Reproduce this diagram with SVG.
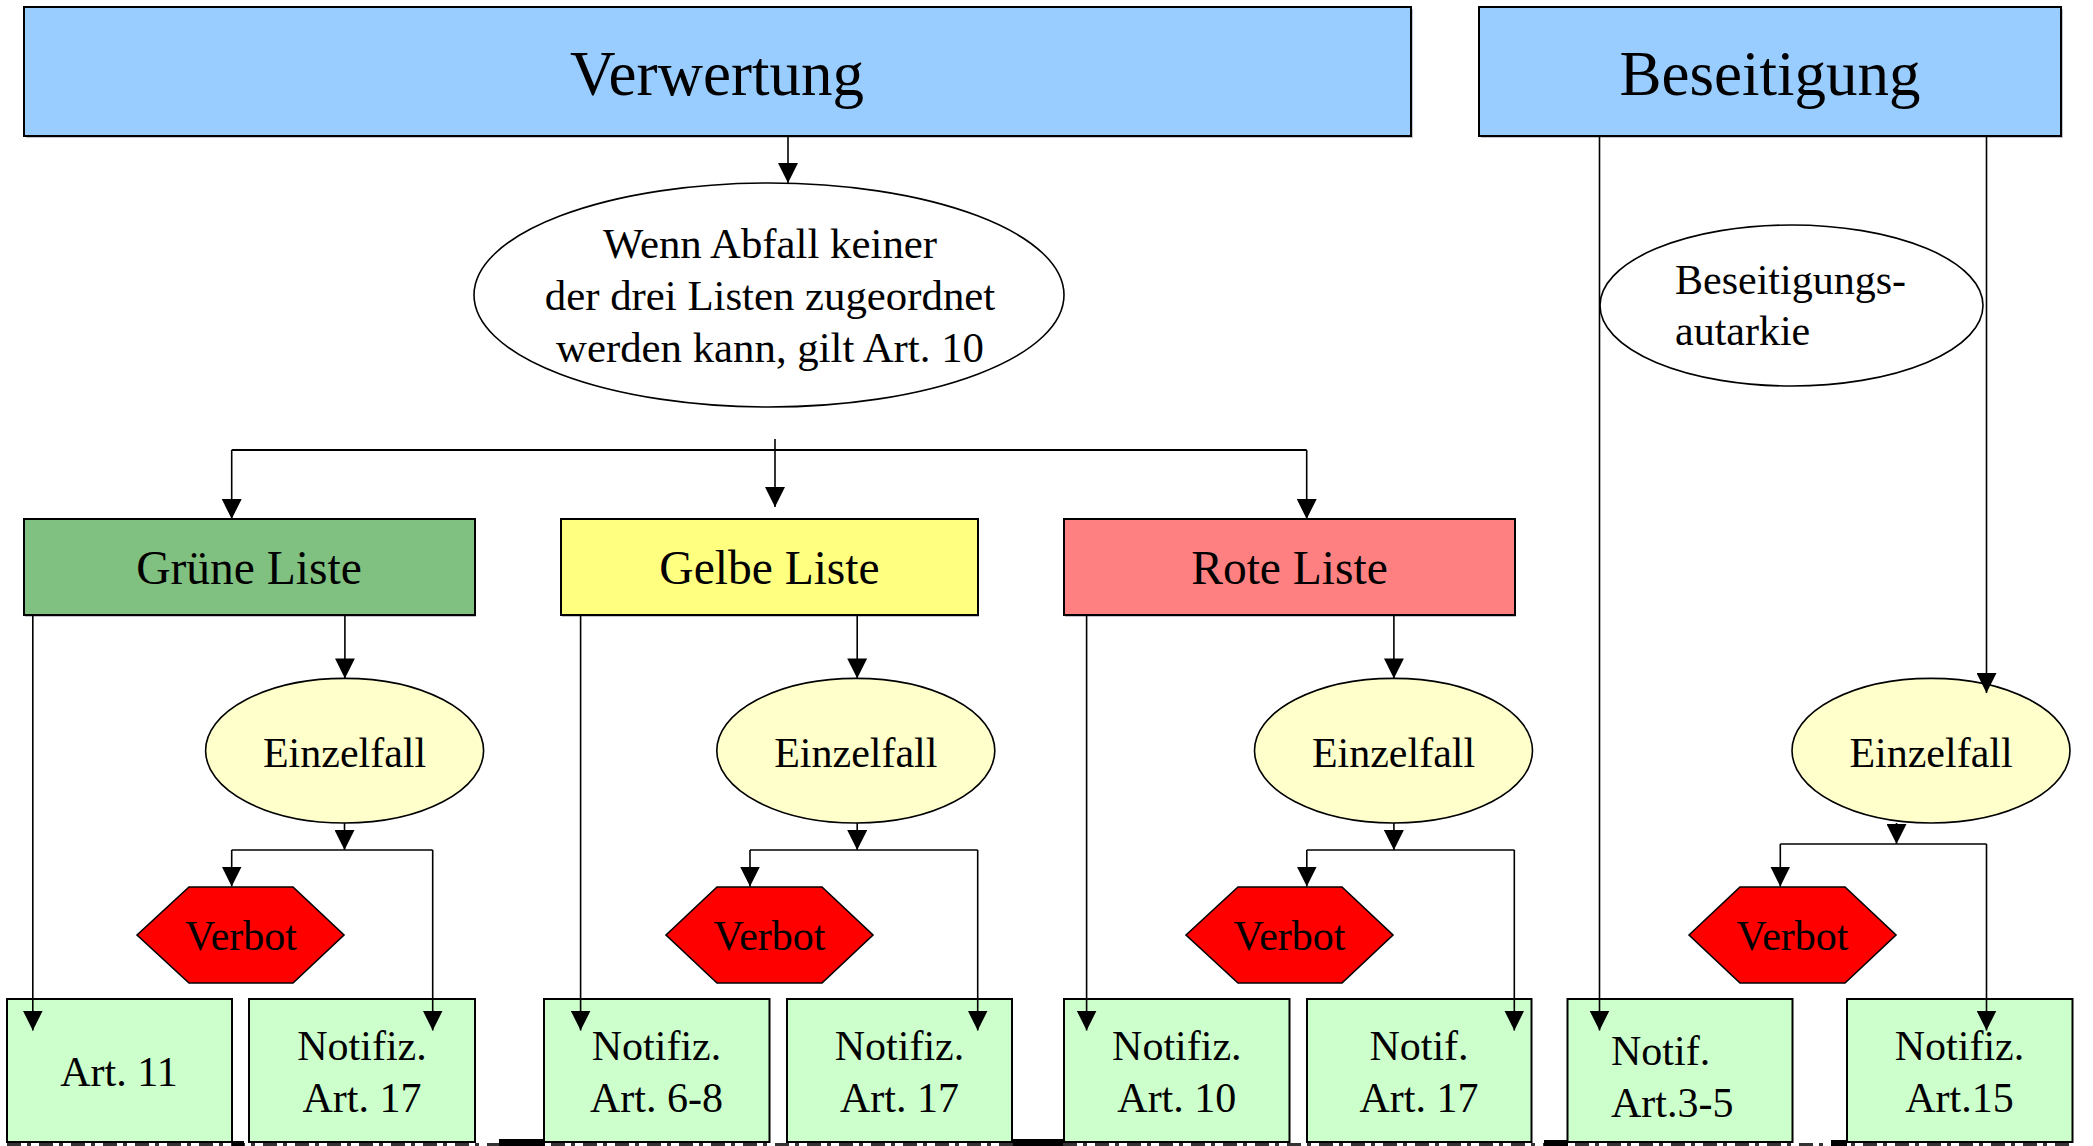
<svg xmlns="http://www.w3.org/2000/svg" width="2093" height="1146" viewBox="0 0 2093 1146">
<style>
text{font-family:"Liberation Serif","Times New Roman",serif;fill:#000;text-anchor:middle}
.box{stroke:#000;stroke-width:2}
.shadow{fill:#c4c4cc}
.ell{stroke:#000;stroke-width:1.6}
.t63{font-size:63px}
.t47{font-size:47.5px}
.t42{font-size:42px}
.t43{font-size:42.8px}
.c{fill:none;stroke:#000;stroke-width:1.6}
.ca{fill:none;stroke:#000;stroke-width:1.6;marker-end:url(#ah)}
.art{fill:#ccffcc}
.hex{fill:#ff0000;stroke:#000;stroke-width:1.6}
.ein{fill:#ffffcc}
</style>
<defs>
<marker id="ah" markerUnits="userSpaceOnUse" markerWidth="20" markerHeight="20" refX="20" refY="10" orient="auto" viewBox="0 0 20 20">
<path d="M0,0 L20,10 L0,20 z" fill="#000"/>
</marker>
</defs>
<rect width="2093" height="1146" fill="#fff"/>

<g id="verwertung">
<rect class="shadow" x="26" y="9" width="1387" height="129"/>
<rect class="box" x="24" y="7" width="1387" height="129" fill="#99ccff"/>
<text class="t63" x="717" y="95">Verwertung</text>
</g>
<g id="beseitigung">
<rect class="shadow" x="1481" y="9" width="582" height="129"/>
<rect class="box" x="1479" y="7" width="582" height="129" fill="#99ccff"/>
<text class="t63" x="1770" y="95">Beseitigung</text>
</g>

<g id="wenn">
<ellipse class="ell" cx="769" cy="295" rx="295" ry="112" fill="#fff"/>
<text class="t43" x="770" y="258">Wenn Abfall keiner</text>
<text class="t43" x="770" y="310">der drei Listen zugeordnet</text>
<text class="t43" x="770" y="362">werden kann, gilt Art. 10</text>
</g>
<g id="autarkie">
<ellipse class="ell" cx="1791.5" cy="305.5" rx="191.5" ry="80.5" fill="#fff"/>
<text class="t42" x="1675" y="294" style="text-anchor:start">Beseitigungs-</text>
<text class="t42" x="1675" y="345" style="text-anchor:start">autarkie</text>
</g>

<g id="gruen">
<rect class="shadow" x="25" y="521" width="451" height="96"/>
<rect class="box" x="24" y="519" width="451" height="96" fill="#80c080"/>
<text class="t47" x="249" y="584">Grüne Liste</text>
</g>
<g id="gelb">
<rect class="shadow" x="562" y="521" width="417" height="96"/>
<rect class="box" x="561" y="519" width="417" height="96" fill="#ffff80"/>
<text class="t47" x="769.5" y="584">Gelbe Liste</text>
</g>
<g id="rot">
<rect class="shadow" x="1065" y="521" width="451" height="96"/>
<rect class="box" x="1064" y="519" width="451" height="96" fill="#ff8080"/>
<text class="t47" x="1289.5" y="584">Rote Liste</text>
</g>

<g id="einzelfall1">
<ellipse class="ell ein" cx="344.6" cy="750.7" rx="139" ry="72.3"/>
<text class="t42" x="344.6" y="767">Einzelfall</text>
</g>
<g id="einzelfall2">
<ellipse class="ell ein" cx="855.8" cy="750.7" rx="139" ry="72.3"/>
<text class="t42" x="855.8" y="767">Einzelfall</text>
</g>
<g id="einzelfall3">
<ellipse class="ell ein" cx="1393.5" cy="750.7" rx="139" ry="72.3"/>
<text class="t42" x="1393.5" y="767">Einzelfall</text>
</g>
<g id="einzelfall4">
<ellipse class="ell ein" cx="1931" cy="750.7" rx="139" ry="72.3"/>
<text class="t42" x="1931" y="767">Einzelfall</text>
</g>

<g id="verbot1">
<polygon class="hex" points="137,935 189,887 293,887 344,935 293,983 189,983"/>
<text class="t42" x="241" y="950">Verbot</text>
</g>
<g id="verbot2">
<polygon class="hex" points="666,935 717,887 822,887 873,935 822,983 717,983"/>
<text class="t42" x="769.5" y="950">Verbot</text>
</g>
<g id="verbot3">
<polygon class="hex" points="1186,935 1238,887 1342,887 1393,935 1342,983 1238,983"/>
<text class="t42" x="1289.5" y="950">Verbot</text>
</g>
<g id="verbot4">
<polygon class="hex" points="1689,935 1740,887 1845,887 1896,935 1845,983 1740,983"/>
<text class="t42" x="1792.5" y="950">Verbot</text>
</g>

<g id="art11">
<rect class="box art" x="7" y="999" width="225" height="143"/>
<text class="t42" x="119" y="1086">Art. 11</text>
</g>
<g id="notifiz17a">
<rect class="box art" x="249" y="999" width="226" height="143"/>
<text class="t42" x="362" y="1060">Notifiz.</text>
<text class="t42" x="362" y="1112">Art. 17</text>
</g>
<g id="notifiz68">
<rect class="box art" x="544" y="999" width="225.5" height="143"/>
<text class="t42" x="656.5" y="1060">Notifiz.</text>
<text class="t42" x="656.5" y="1112">Art. 6-8</text>
</g>
<g id="notifiz17b">
<rect class="box art" x="787" y="999" width="225" height="143"/>
<text class="t42" x="899.5" y="1060">Notifiz.</text>
<text class="t42" x="899.5" y="1112">Art. 17</text>
</g>
<g id="notifiz10">
<rect class="box art" x="1064" y="999" width="225.5" height="143"/>
<text class="t42" x="1176.8" y="1060">Notifiz.</text>
<text class="t42" x="1176.8" y="1112">Art. 10</text>
</g>
<g id="notif17">
<rect class="box art" x="1307" y="999" width="224.5" height="143"/>
<text class="t42" x="1419" y="1060">Notif.</text>
<text class="t42" x="1419" y="1112">Art. 17</text>
</g>
<g id="notif35">
<rect class="box art" x="1567.5" y="999" width="225" height="143"/>
<text class="t42" x="1611" y="1065" style="text-anchor:start">Notif.</text>
<text class="t42" x="1611" y="1117" style="text-anchor:start">Art.3-5</text>
</g>
<g id="notifiz15">
<rect class="box art" x="1847" y="999" width="225.5" height="143"/>
<text class="t42" x="1959.5" y="1060">Notifiz.</text>
<text class="t42" x="1959.5" y="1112">Art.15</text>
</g>

<g id="bottom-edge">
<path d="M7,1144.5 H2072" stroke="#333" stroke-width="3" stroke-dasharray="14 6 4 8"/>
<rect x="232" y="1141" width="12" height="5" fill="#000"/>
<rect x="499" y="1139" width="46" height="7" fill="#000"/>
<rect x="1013" y="1139" width="50" height="7" fill="#000"/>
<rect x="1544" y="1140" width="24" height="6" fill="#000"/>
<rect x="1831" y="1140" width="16" height="6" fill="#000"/>
</g>

<g id="connectors">
<path class="ca" d="M788,136 V183"/>
<path class="ca" d="M775,439 V507"/>
<path class="c" d="M231.7,450 H1306.7" style="stroke-width:2"/>
<path class="ca" d="M231.7,450 V519"/>
<path class="ca" d="M1306.7,450 V519"/>

<path class="ca" d="M344.9,615 V678.4"/>
<path class="ca" d="M857.2,615 V678.4"/>
<path class="ca" d="M1393.9,615 V678.4"/>
<path class="ca" d="M1986.5,136 V693"/>
<path class="ca" d="M1599.5,136 V1030.5"/>

<path class="ca" d="M32.8,615 V1030.5"/>
<path class="ca" d="M580.6,615 V1030.5"/>
<path class="ca" d="M1086.6,615 V1030.5"/>

<path class="ca" d="M344.5,823 V850"/>
<path class="c" d="M231.7,850 H432.7"/>
<path class="ca" d="M231.7,850 V886.5"/>
<path class="ca" d="M432.7,850 V1030.5"/>

<path class="ca" d="M857.2,823 V850"/>
<path class="c" d="M750,850 H977.7"/>
<path class="ca" d="M750,850 V886.5"/>
<path class="ca" d="M977.7,850 V1030.5"/>

<path class="ca" d="M1393.9,823 V850"/>
<path class="c" d="M1306.8,850 H1514.3"/>
<path class="ca" d="M1306.8,850 V886.5"/>
<path class="ca" d="M1514.3,850 V1030.5"/>

<path class="ca" d="M1896.5,823 V844"/>
<path class="c" d="M1780.3,844 H1986.5"/>
<path class="ca" d="M1780.3,844 V886.5"/>
<path class="ca" d="M1986.5,844 V1030.5"/>
</g>
</svg>
